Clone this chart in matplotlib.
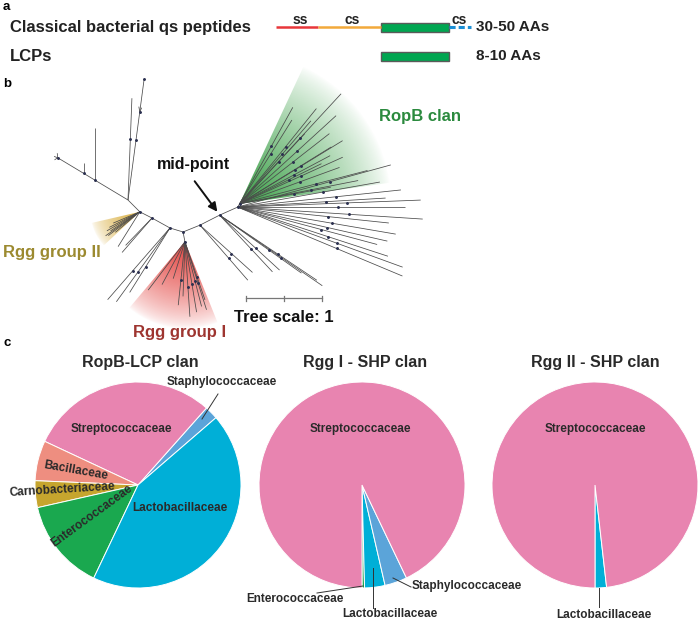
import numpy as np
import matplotlib.pyplot as plt
from matplotlib.patches import Wedge, Rectangle
from matplotlib.colors import to_rgb

plt.rcParams['font.family'] = ['Liberation Sans', 'DejaVu Sans']
plt.rcParams['font.weight'] = 'bold'

W, H = 700, 624

# ---- panel a : peptide schematic ----
peptide_rows = ['Classical bacterial qs peptides', 'LCPs']
peptide_sizes = ['30-50 AAs', '8-10 AAs']
classical_parts = ['ss', 'cs', 'peptide', 'cs']
classical_len = [42, 63, 68, 22]
part_colors = ['#e8363a', '#f2a93b', '#00a651', '#1b8fd6']

# ---- panel b : tree (node, parent, angle in deg, branch length in tree units) ----
backbone = [
    ('n1', 'root', 149, 0.51), ('n2', 'n1', 149, 0.17), ('tipL', 'n2', 149, 0.40),
    ('u1', 'root', 82.4, 0.80), ('u2', 'u1', 82.4, 0.37), ('utop', 'u2', 82.4, 0.43),
    ('d', 'root', -45, 0.22), ('e', 'd', -27, 0.18), ('f', 'e', -29, 0.27),
    ('g', 'f', -17, 0.18), ('rgg1', 'g', -79, 0.13), ('h', 'g', 22, 0.24),
    ('i', 'h', 27, 0.29), ('j', 'i', 24, 0.26), ('k', 'j', 60, 0.05),
]
leaves = [
    ('tipL', 95, 0.06), ('tipL', 160, 0.05), ('tipL', 215, 0.05),
    ('n1', 90, 0.68), ('n2', 90, 0.14), ('root', 87.8, 1.34),
    ('u2', 100, 0.07), ('u2', 65, 0.06),
    ('d', 238, 0.54), ('e', 229, 0.60), ('e', 226, 0.50),
    ('f', 229, 1.25), ('f', 234, 1.20), ('f', 238, 1.00),
    ('h', -49, 0.96), ('h', -42, 0.93),
    ('i', -47, 1.02), ('i', -42.5, 1.07), ('i', -35.3, 1.32), ('i', -33.8, 1.54), ('i', -34.5, 1.64),
    ('j', 15.4, 2.09), ('j', 10, 1.90), ('j', 6, 2.16), ('j', 3.5, 1.95), ('j', 2.2, 2.41),
    ('j', 0, 2.20), ('j', -3.7, 2.44), ('j', -6, 2.00), ('j', -9.7, 2.11), ('j', -12.8, 2.02),
    ('j', -15, 1.90), ('j', -18.1, 2.08), ('j', -20, 2.31), ('j', -22.7, 2.35),
]
ropb_angles = [61.1, 58, 51.1, 49.3, 47.3, 47.1, 42.4, 38, 31.8, 31.5, 28, 26.1, 24.3, 20, 14.6, 11.1, 10.3]
ropb_lengths = [1.45, 1.30, 1.61, 1.44, 1.97, 1.26, 1.72, 1.50, 1.42, 1.59, 1.35, 1.20, 1.49, 1.40, 1.74, 1.59, 1.22]
rgg1_angles = [232.8, 241.9, 252.4, 264, 268, 273.8, 279.4, 284.4, 287.6, 289]
rgg1_lengths = [0.80, 0.64, 0.51, 0.84, 0.72, 0.99, 0.94, 0.88, 0.94, 0.81]
rgg2_angles = [203, 207, 210, 213, 215, 217, 220]
rgg2_lengths = [0.38, 0.45, 0.50, 0.46, 0.55, 0.52, 0.42]

# ---- panel c : family share (%) per clan ----
ropb_fam = ['Staphylococcaceae', 'Streptococcaceae', 'Bacillaceae', 'Carnobacteriaceae',
            'Enterococcaceae', 'Lactobacillaceae']
ropb_share = [2.1, 29.6, 6.3, 4.2, 14.4, 43.4]
rggI_fam = ['Enterococcaceae', 'Lactobacillaceae', 'Staphylococcaceae', 'Streptococcaceae']
rggI_share = [0.4, 3.2, 3.5, 92.9]
rggII_fam = ['Lactobacillaceae', 'Streptococcaceae']
rggII_share = [1.8, 98.2]

fam_colors = {
    'Streptococcaceae': '#e884b0', 'Staphylococcaceae': '#5ba4d9', 'Lactobacillaceae': '#00afd7',
    'Enterococcaceae': '#1aa84f', 'Carnobacteriaceae': '#c6a52e', 'Bacillaceae': '#ee8e80',
}

fig = plt.figure(figsize=(7, 6.24), dpi=100)

# pies first, overlay axes on top
R_PIE = 103


def draw_pie(cx, cy, values, names, start):
    s = 1.25 * R_PIE
    pax = fig.add_axes([(cx - s) / W, (H - cy - s) / H, 2 * s / W, 2 * s / H])
    pax.pie(values, colors=[fam_colors[n] for n in names], startangle=start, counterclock=True,
            wedgeprops=dict(edgecolor='white', linewidth=0.7))
    pax.set_xlim(-1.25, 1.25)
    pax.set_ylim(-1.25, 1.25)


draw_pie(138, 485, ropb_share, ropb_fam, 40.8)
draw_pie(362, 485, rggI_share, rggI_fam, 270)
draw_pie(595, 485, rggII_share, rggII_fam, 270)

ax = fig.add_axes([0, 0, 1, 1])
ax.axis('off')
ax.set_autoscale_on(False)
ax.set_xlim(0, W)
ax.set_ylim(H, 0)

# ---------- panel a ----------
ax.text(3, 7, 'a', fontsize=9.5, va='center')
row_y = [27.3, 56.5]
for y, lab, sz in zip(row_y, peptide_rows, peptide_sizes):
    ax.text(10, y, lab, fontsize=12, va='center', color='#222222')
    ax.text(476, y, sz, fontsize=11, va='center', color='#222222')

x = 276
for part, ln, col in zip(classical_parts, classical_len, part_colors):
    y = row_y[0]
    if part == 'peptide':
        ax.add_patch(Rectangle((x, y - 4.2), ln, 8.4, facecolor=col, edgecolor='#5a5a5a', lw=1))
        ax.add_patch(Rectangle((x, row_y[1] - 4.5), ln, 9, facecolor=col, edgecolor='#5a5a5a', lw=1))
    elif col == '#1b8fd6':
        ax.plot([x, x + ln], [y, y], color=col, lw=2.2, ls=(0, (2, 1)))
        ax.text(x + ln / 2 - 1, 19.5, part, fontsize=10, ha='center', va='center', color='#222222')
    else:
        ax.plot([x, x + ln], [y, y], color=col, lw=1.8, solid_capstyle='butt')
        ax.text(x + ln / 2 + 3, 19.5, part, fontsize=10, ha='center', va='center', color='#222222')
    x += ln

# ---------- panel b ----------
ax.text(3, 84, 'b', fontsize=9.5, va='center')
SCALE = 76
pos = {'root': (128, 200)}


def step(p, ang, ln):
    a = np.radians(ang)
    return (p[0] + ln * SCALE * np.cos(a), p[1] - ln * SCALE * np.sin(a))


def fade_wedge(apex, t1, t2, radius, color, amax=0.9, power=1.0):
    cx, cy = apex
    r = radius * SCALE
    n = 240
    xs = np.linspace(cx - r, cx + r, n)
    ys = np.linspace(cy - r, cy + r, n)
    X, Y = np.meshgrid(xs, ys)
    dist = np.hypot(X - cx, Y - cy) / r
    img = np.zeros((n, n, 4))
    img[..., :3] = to_rgb(color)
    img[..., 3] = np.clip(1 - dist, 0, 1) ** power * amax
    im = ax.imshow(img, extent=(cx - r, cx + r, cy - r, cy + r), origin='lower',
                   aspect='auto', interpolation='bilinear', zorder=1)
    im.set_clip_path(Wedge((cx, cy), r, -t2, -t1, transform=ax.transData))


line_kw = dict(color='#4a4a4a', lw=0.55, zorder=3, solid_capstyle='butt')
dot_kw = dict(marker='o', ms=1.1, color='#2b3050', ls='none', zorder=4)

for name, parent, ang, ln in backbone:
    pos[name] = step(pos[parent], ang, ln)
    p0, p1 = pos[parent], pos[name]
    ax.plot([p0[0], p1[0]], [p0[1], p1[1]], **line_kw)
    ax.plot(*p1, **dot_kw)

fade_wedge(pos['k'], 8, 65, 2.0, '#2f9a3c', 0.95, 0.8)
fade_wedge(pos['rgg1'], 230, 292, 1.15, '#e23a36', 0.95, 0.7)
fade_wedge(pos['d'], 193, 223, 0.65, '#d8ac3a', 0.95, 0.6)

fan_leaves = leaves + [('k', a, l) for a, l in zip(ropb_angles, ropb_lengths)] \
    + [('rgg1', a, l) for a, l in zip(rgg1_angles, rgg1_lengths)] \
    + [('d', a, l) for a, l in zip(rgg2_angles, rgg2_lengths)]
for parent, ang, ln in fan_leaves:
    p0 = pos[parent]
    p1 = step(p0, ang, ln)
    ax.plot([p0[0], p1[0]], [p0[1], p1[1]], **line_kw)
    if ln > 0.8:
        pm = step(p0, ang, ln * 0.6)
        ax.plot(*pm, **dot_kw)

ax.text(420, 116, 'RopB clan', fontsize=12, ha='center', va='center', color='#2b8a3e')
ax.text(193, 165, 'mid-point', fontsize=11.5, ha='center', va='center', color='#111111')
ax.annotate('', xy=(219, 214), xytext=(193, 179),
            arrowprops=dict(arrowstyle='-|>', color='#111111', lw=1.4, mutation_scale=13))
ax.text(3, 253, 'Rgg group II', fontsize=12, va='center', color='#9c8a30')
ax.text(133, 333, 'Rgg group I', fontsize=12, va='center', color='#9e3530')

sb_x, sb_y = 246, 298
ax.plot([sb_x, sb_x + SCALE], [sb_y, sb_y], color='#777777', lw=0.9)
for tx in [sb_x, sb_x + SCALE / 2, sb_x + SCALE]:
    ax.plot([tx, tx], [sb_y - 2.5, sb_y + 2.5], color='#777777', lw=0.9)
ax.text(sb_x + SCALE / 2, 318, 'Tree scale: 1', fontsize=12, ha='center', va='center', color='#111111')

# ---------- panel c ----------
ax.text(4, 343, 'c', fontsize=9.5, va='center')
titles = ['RopB-LCP clan', 'Rgg I - SHP clan', 'Rgg II - SHP clan']
for tx, t in zip([140, 365, 595], titles):
    ax.text(tx, 362, t, fontsize=11.5, ha='center', va='center', color='#2a2a2a')

lab = dict(fontsize=8.5, ha='center', va='center', color='#2a2a2a')
ax.text(121, 429, 'Streptococcaceae', **lab)
ax.text(76, 471, 'Bacillaceae', rotation=-10, **lab)
ax.text(62, 490, 'Carnobacteriaceae', rotation=3.5, **lab)
ax.text(92, 516, 'Enterococcaceae', rotation=36, **lab)
ax.text(180, 508, 'Lactobacillaceae', **lab)
ax.text(222, 382, 'Staphylococcaceae', **lab)
ax.plot([202, 218], [419, 394], color='#333333', lw=0.7)

ax.text(360, 429, 'Streptococcaceae', **lab)
ax.text(295, 599, 'Enterococcaceae', **lab)
ax.plot([363, 317], [586, 593], color='#333333', lw=0.7)
ax.text(390, 614, 'Lactobacillaceae', **lab)
ax.plot([373, 373], [568, 608], color='#333333', lw=0.7)
ax.text(412, 586, 'Staphylococcaceae', fontsize=8.5, ha='left', va='center', color='#2a2a2a')
ax.plot([393, 411], [578, 587], color='#333333', lw=0.7)

ax.text(595, 429, 'Streptococcaceae', **lab)
ax.text(604, 615, 'Lactobacillaceae', **lab)
ax.plot([599, 599], [588, 607], color='#333333', lw=0.7)

fig.savefig('out.png', dpi=100)
